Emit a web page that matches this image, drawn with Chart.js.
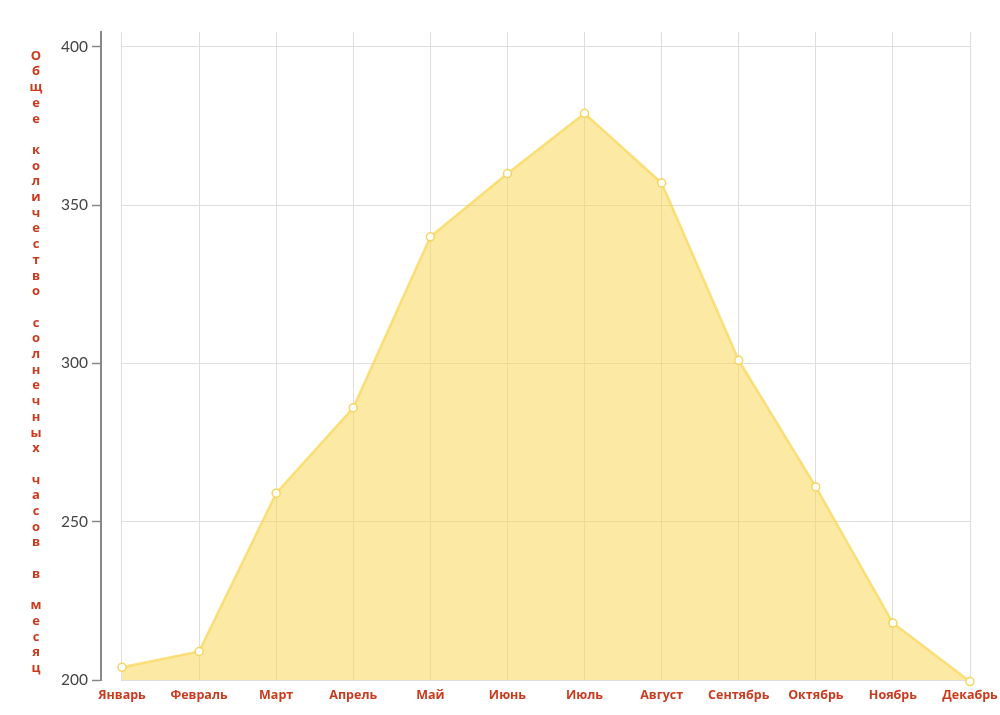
<!DOCTYPE html>
<html>
<head>
<meta charset="utf-8">
<script src="https://cdn.jsdelivr.net/npm/chart.js@4.4.1/dist/chart.umd.min.js"></script>
<style>
  html, body { margin: 0; padding: 0; background: #fff; }
  #wrap { width: 1000px; height: 715px; position: relative; }
</style>
</head>
<body>
<div id="wrap"><canvas id="c" width="1000" height="715"></canvas></div>
<script>
const months = ['Январь','Февраль','Март','Апрель','Май','Июнь','Июль','Август','Сентябрь','Октябрь','Ноябрь','Декабрь'];
const sunHours = [204, 209, 259, 286, 340, 360, 379, 357, 301, 261, 218, 199.5];
const yTicks = [200, 250, 300, 350, 400];
const yTitle = 'Общее количество солнечных часов в месяц';

const red = '#cc3a1e';

const coverPlugin = {
  id: 'cover',
  beforeDatasetsDraw(chart) {
    const {ctx, chartArea} = chart;
    const x0 = chart.scales.x.getPixelForValue(0);
    ctx.save();
    ctx.fillStyle = '#fff';
    ctx.fillRect(chartArea.left + 1.5, chartArea.top - 1, x0 - chartArea.left - 2.5, chartArea.bottom - chartArea.top + 2);
    ctx.restore();
  }
};

const titlePlugin = {
  id: 'stackTitle',
  afterDraw(chart) {
    const {ctx} = chart;
    const chars = Array.from(yTitle);
    ctx.save();
    ctx.fillStyle = red;
    ctx.font = 'bold 13px "Open Sans"';
    ctx.textAlign = 'center';
    ctx.textBaseline = 'middle';
    const step = 15.7;
    const y0 = 56;
    chars.forEach((ch, i) => {
      if (ch !== ' ') ctx.fillText(ch, 36, y0 + i * step);
    });
    ctx.restore();
  }
};

new Chart(document.getElementById('c'), {
  type: 'line',
  data: {
    datasets: [{
      data: sunHours.map((v, i) => ({x: i, y: v})),
      fill: 'start',
      backgroundColor: 'rgba(249, 215, 90, 0.55)',
      borderColor: 'rgba(249, 215, 90, 0.75)',
      borderWidth: 2.5,
      pointRadius: 4,
      pointBackgroundColor: '#fff',
      pointBorderColor: 'rgba(245, 210, 80, 0.9)',
      pointBorderWidth: 1.5,
      tension: 0,
      clip: false
    }]
  },
  options: {
    responsive: false,
    animation: false,
    layout: { padding: { top: 32, right: 30, bottom: 0, left: 0 } },
    plugins: { legend: { display: false }, tooltip: { enabled: false } },
    scales: {
      x: {
        type: 'linear',
        min: -0.272,
        max: 11,
        afterBuildTicks(scale) { scale.ticks = months.map((m, i) => ({value: i})); },
        afterFit(scale) { scale.height = 35; scale.paddingRight = 0; scale.paddingLeft = 0; },
        grid: { color: '#dedede', lineWidth: 1, drawTicks: false },
        border: { display: false },
        ticks: {
          padding: 8,
          color: red,
          font: { family: '"Open Sans"', size: 12.5, weight: 'bold' },
          maxRotation: 0,
          autoSkip: false,
          callback(v) { return months[v]; }
        }
      },
      y: {
        min: 200,
        max: 404.7,
        afterBuildTicks(scale) { scale.ticks = yTicks.map(v => ({value: v})); },
        afterFit(scale) { scale.width = 101; },
        grid: { color: '#dedede', lineWidth: 1, tickLength: 9, tickColor: '#888', tickWidth: 1.5 },
        border: { display: true, color: '#888', width: 2 },
        ticks: {
          padding: 4,
          color: '#444',
          font: { family: 'Lato', size: 15.5 }
        }
      }
    }
  },
  plugins: [coverPlugin, titlePlugin]
});
</script>
</body>
</html>
